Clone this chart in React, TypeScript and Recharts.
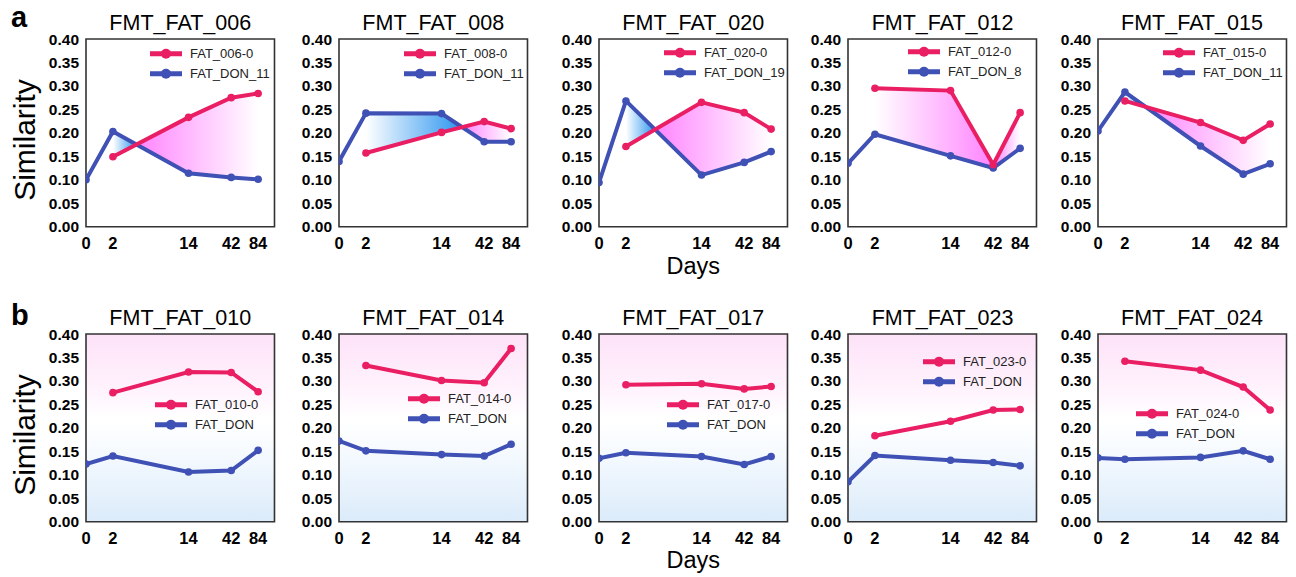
import React from 'react'
import { ComposedChart, Line, Area, XAxis, YAxis, ReferenceArea, CartesianGrid, Legend } from 'recharts'

// sampling days; day 0 is drawn on the left edge of the log axis
const days = [0, 2, 14, 42, 84]
const dayTicks = [1, 2, 14, 42, 84]
const similarityTicks = [0, 0.05, 0.1, 0.15, 0.2, 0.25, 0.3, 0.35, 0.4]

// row a
const fat006 = [null, 0.149, 0.233, 0.275, 0.284]
const don11a = [0.1, 0.203, 0.114, 0.105, 0.101]
const fat008 = [null, 0.157, 0.201, 0.224, 0.209]
const don11b = [0.139, 0.242, 0.241, 0.181, 0.181]
const fat020 = [null, 0.171, 0.265, 0.243, 0.208]
const don19 = [0.094, 0.268, 0.11, 0.137, 0.16]
const fat012 = [null, 0.295, 0.29, 0.132, 0.243]
const don8 = [0.135, 0.197, 0.151, 0.125, 0.167]
const fat015 = [null, 0.268, 0.222, 0.184, 0.219]
const don11c = [0.204, 0.287, 0.172, 0.112, 0.134]

// row b
const fat010 = [null, 0.275, 0.319, 0.318, 0.277]
const don010 = [0.123, 0.14, 0.106, 0.109, 0.152]
const fat014 = [null, 0.333, 0.301, 0.296, 0.369]
const don014 = [0.172, 0.151, 0.143, 0.14, 0.165]
const fat017 = [null, 0.292, 0.294, 0.283, 0.288]
const don017 = [0.135, 0.147, 0.139, 0.122, 0.139]
const fat023 = [null, 0.183, 0.214, 0.238, 0.239]
const don023 = [0.085, 0.141, 0.131, 0.126, 0.119]
const fat024 = [null, 0.342, 0.323, 0.287, 0.238]
const don024 = [0.136, 0.133, 0.137, 0.151, 0.133]

type Panel = { title: string; fatName: string; donName: string; fat: (number | null)[]; don: number[]; row: 0 | 1 }

const panels: Panel[] = [
  { title: 'FMT_FAT_006', fatName: 'FAT_006-0', donName: 'FAT_DON_11', fat: fat006, don: don11a, row: 0 },
  { title: 'FMT_FAT_008', fatName: 'FAT_008-0', donName: 'FAT_DON_11', fat: fat008, don: don11b, row: 0 },
  { title: 'FMT_FAT_020', fatName: 'FAT_020-0', donName: 'FAT_DON_19', fat: fat020, don: don19, row: 0 },
  { title: 'FMT_FAT_012', fatName: 'FAT_012-0', donName: 'FAT_DON_8', fat: fat012, don: don8, row: 0 },
  { title: 'FMT_FAT_015', fatName: 'FAT_015-0', donName: 'FAT_DON_11', fat: fat015, don: don11c, row: 0 },
  { title: 'FMT_FAT_010', fatName: 'FAT_010-0', donName: 'FAT_DON', fat: fat010, don: don010, row: 1 },
  { title: 'FMT_FAT_014', fatName: 'FAT_014-0', donName: 'FAT_DON', fat: fat014, don: don014, row: 1 },
  { title: 'FMT_FAT_017', fatName: 'FAT_017-0', donName: 'FAT_DON', fat: fat017, don: don017, row: 1 },
  { title: 'FMT_FAT_023', fatName: 'FAT_023-0', donName: 'FAT_DON', fat: fat023, don: don023, row: 1 },
  { title: 'FMT_FAT_024', fatName: 'FAT_024-0', donName: 'FAT_DON', fat: fat024, don: don024, row: 1 },
]

// layout
const plotLefts = [86, 339, 599, 848.3, 1097.7]
const rowTops = [39.3, 333.7]
const PLOT_W = 188.5
const PLOT_H = 187.7
const Y_AXIS_W = 55
const TOP_PAD = 10
const X_AXIS_H = 30
const legendAt = [
  [64, 14.7], [65, 14.7], [65, 13.7], [59.7, 12.7], [65.3, 13.7],
  [69, 71.3], [69, 65.3], [68, 71.3], [74.7, 28.3], [38.3, 80.3],
]

const RED = '#e91e63'
const BLUE = '#3f51b5'
const BLUE_FILL = '#2b95ef'
const PINK_FILL = '#ff84ff'
const FONT = '"Liberation Sans", Arial, Helvetica, sans-serif'

// where the two curves cross (or come closest), as a 0..1 offset across the band
function bandPivot(fat: (number | null)[], don: number[]) {
  const lx = days.map((d) => Math.log10(Math.max(d, 1)))
  const idx = days.map((_, i) => i).filter((i) => fat[i] != null)
  const first = idx[0]
  const last = idx[idx.length - 1]
  const gap = (i: number) => don[i] - (fat[i] as number)
  for (let k = 0; k < idx.length - 1; k++) {
    const a = idx[k]
    const b = idx[k + 1]
    if (gap(a) * gap(b) < 0) {
      const t = gap(a) / (gap(a) - gap(b))
      const p = lx[a] + t * (lx[b] - lx[a])
      return {
        offset: (p - lx[first]) / (lx[last] - lx[first]),
        left: gap(a) > 0 ? BLUE_FILL : PINK_FILL,
        right: gap(b) > 0 ? BLUE_FILL : PINK_FILL,
      }
    }
  }
  let best = first
  idx.forEach((i) => {
    if (Math.abs(gap(i)) < Math.abs(gap(best))) best = i
  })
  const c = gap(best) > 0 ? BLUE_FILL : PINK_FILL
  return { offset: (lx[best] - lx[first]) / (lx[last] - lx[first]), left: c, right: c }
}

function PanelLegend({ p }: { p: Panel }) {
  const entries = [
    { name: p.fatName, color: RED },
    { name: p.donName, color: BLUE },
  ]
  return (
    <div style={{ fontFamily: FONT }}>
      {entries.map((e) => (
        <div key={e.name} style={{ display: 'flex', alignItems: 'center', height: 19.5 }}>
          <svg width={32} height={19.5} style={{ display: 'block' }}>
            <line x1={0} x2={32} y1={9.75} y2={9.75} stroke={e.color} strokeWidth={5} />
            <circle cx={16} cy={9.75} r={5} fill={e.color} />
          </svg>
          <span style={{ marginLeft: 8, fontSize: 13, color: '#222', whiteSpace: 'nowrap' }}>{e.name}</span>
        </div>
      ))}
    </div>
  )
}

function SimilarityPanel({ p, i }: { p: Panel; i: number }) {
  const rows = days.map((d, k) => ({
    x: Math.max(d, 1),
    fat: p.fat[k],
    don: p.don[k],
    band: p.fat[k] == null ? null : [p.fat[k], p.don[k]],
  }))
  const pivot = bandPivot(p.fat, p.don)
  const col = i % 5
  const [lx, ly] = legendAt[i]
  const yTick = { fill: '#000', fontSize: 15.5, fontWeight: 700, fontFamily: FONT }
  const xTick = { fill: '#000', fontSize: 16.5, fontWeight: 700, fontFamily: FONT }

  return (
    <div style={{ position: 'absolute', left: plotLefts[col] - Y_AXIS_W, top: rowTops[p.row] - TOP_PAD }}>
      <ComposedChart
        width={Y_AXIS_W + PLOT_W + 10}
        height={TOP_PAD + PLOT_H + X_AXIS_H}
        data={rows}
        margin={{ top: TOP_PAD, right: 10, left: 0, bottom: 0 }}
      >
        <defs>
          <linearGradient id={`band-${i}`} x1="0" y1="0" x2="1" y2="0">
            <stop offset={0} stopColor={pivot.left} stopOpacity={0} />
            <stop offset={pivot.offset} stopColor={pivot.left} stopOpacity={1} />
            <stop offset={pivot.offset} stopColor={pivot.right} stopOpacity={1} />
            <stop offset={1} stopColor={pivot.right} stopOpacity={0} />
          </linearGradient>
          <linearGradient id={`bg-${i}`} x1="0" y1="0" x2="0" y2="1">
            <stop offset="0" stopColor="#fde2f8" />
            <stop offset="0.3" stopColor="#fff3fd" />
            <stop offset="0.45" stopColor="#ffffff" />
            <stop offset="0.58" stopColor="#f9fcff" />
            <stop offset="1" stopColor="#dbebfa" />
          </linearGradient>
        </defs>
        <CartesianGrid horizontal={false} vertical={false} fill={p.row === 1 ? `url(#bg-${i})` : 'none'} />
        <XAxis
          dataKey="x"
          type="number"
          scale="log"
          domain={[1, 128]}
          allowDataOverflow
          ticks={dayTicks}
          interval={0}
          tickFormatter={(v: number) => (v === 1 ? '0' : String(v))}
          axisLine={false}
          tickLine={false}
          tickMargin={5}
          height={X_AXIS_H}
          tick={xTick}
        />
        <YAxis
          type="number"
          domain={[0, 0.4]}
          ticks={similarityTicks}
          interval={0}
          tickFormatter={(v: number) => v.toFixed(2)}
          axisLine={false}
          tickLine={false}
          tickMargin={1}
          width={Y_AXIS_W}
          tick={yTick}
        />
        {p.row === 0 && (
          <Area
            type="linear"
            dataKey="band"
            stroke="none"
            fill={`url(#band-${i})`}
            fillOpacity={1}
            legendType="none"
            isAnimationActive={false}
          />
        )}
        <Line
          type="linear"
          dataKey="don"
          name={p.donName}
          stroke={BLUE}
          strokeWidth={4}
          dot={{ r: 3.8, fill: BLUE, stroke: BLUE, strokeWidth: 0 }}
          isAnimationActive={false}
        />
        <Line
          type="linear"
          dataKey="fat"
          name={p.fatName}
          stroke={RED}
          strokeWidth={4}
          dot={{ r: 3.8, fill: RED, stroke: RED, strokeWidth: 0 }}
          isAnimationActive={false}
        />
        <ReferenceArea x1={1} x2={128} y1={0} y2={0.4} fill="none" stroke="#333" strokeWidth={1.6} />
        <Legend
          layout="vertical"
          align="center"
          verticalAlign="middle"
          content={() => <PanelLegend p={p} />}
          wrapperStyle={{ left: Y_AXIS_W + lx, top: TOP_PAD + ly - 9.75, width: 'auto', height: 'auto' }}
        />
      </ComposedChart>
    </div>
  )
}

export default function App() {
  return (
    <div style={{ position: 'absolute', left: 0, top: 0, width: 1296, height: 577, background: '#fff', fontFamily: FONT }}>
      {panels.map((p, i) => (
        <SimilarityPanel key={p.title} p={p} i={i} />
      ))}
      <svg width={1296} height={577} style={{ position: 'absolute', left: 0, top: 0, pointerEvents: 'none' }}>
        <g fontFamily={FONT} fill="#000">
          <text x={11} y={26.7} fontSize={29} fontWeight={700}>a</text>
          <text x={11} y={325} fontSize={29} fontWeight={700}>b</text>
          {panels.map((p, i) => (
            <text
              key={p.title}
              x={plotLefts[i % 5] + PLOT_W / 2}
              y={p.row === 0 ? 30 : 325}
              fontSize={21.5}
              textAnchor="middle"
            >
              {p.title}
            </text>
          ))}
          <text transform="translate(35,140) rotate(-90)" fontSize={30} textAnchor="middle">Similarity</text>
          <text transform="translate(35,435) rotate(-90)" fontSize={30} textAnchor="middle">Similarity</text>
          <text x={plotLefts[2] + PLOT_W / 2} y={274} fontSize={23.5} textAnchor="middle">Days</text>
          <text x={plotLefts[2] + PLOT_W / 2} y={568} fontSize={23.5} textAnchor="middle">Days</text>
        </g>
      </svg>
    </div>
  )
}
